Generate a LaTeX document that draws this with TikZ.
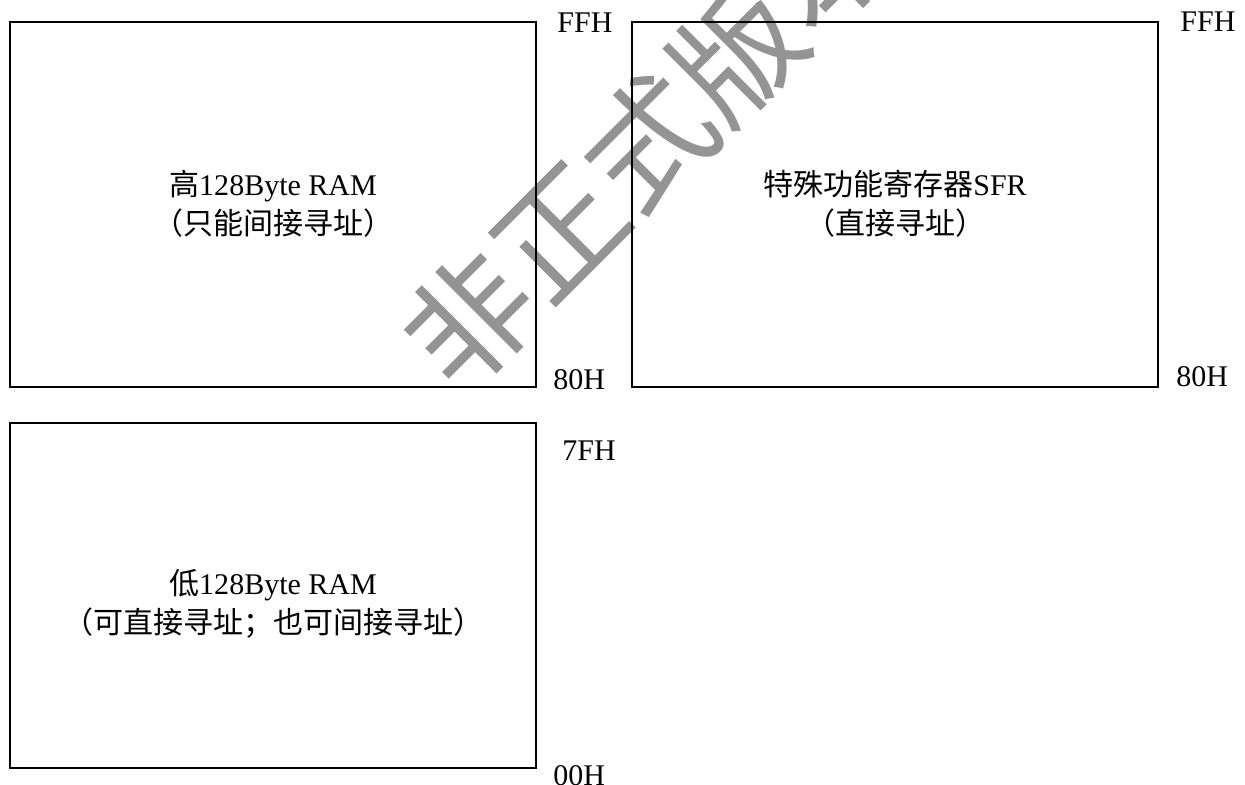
\documentclass[tikz,border=0pt]{standalone}
\usepackage{fontspec}
\setmainfont{Liberation Serif}
\newfontfamily\cjk{Noto Sans CJK SC}
\tikzset{
  membox/.style={draw=black, line width=1pt, minimum width=263pt, inner sep=0pt, outer sep=0pt},
  txt/.style={anchor=base, inner sep=0pt, font=\fontsize{15}{18}\selectfont},
  addr/.style={anchor=base west, inner sep=0pt, font=\fontsize{15}{18}\selectfont},
  wmark/.style={text=black!42, inner sep=0pt, rotate=45, font=\cjk\fontsize{63}{63}\selectfont}
}
\begin{document}
\begin{tikzpicture}[x=0.5pt, y=-0.5pt]
\useasboundingbox (0,0) rectangle (1245,784);
\fill[white] (0,0) rectangle (1245,784);
% watermark
\begin{scope}
\clip (0,0) rectangle (1245,784);
\node[wmark] (wm) at (648,142) {非正式版本};
\end{scope}
% boxes
\node[membox, minimum height=182.5pt] (hi) at (273,204.5) {};
\node[membox, minimum height=182.5pt] (sfr) at (895,204.5) {};
\node[membox, minimum height=172.5pt] (lo) at (273,595.5) {};
% texts
\node[txt] (hi1) at (273,195) {{\cjk 高}128Byte RAM};
\node[txt] (hi2) at (273,234) {\cjk （只能间接寻址）};
\node[txt] (sfr1) at (895,195) {{\cjk 特殊功能寄存器}SFR};
\node[txt] (sfr2) at (895,234) {\cjk （直接寻址）};
\node[txt] (lo1) at (273,594) {{\cjk 低}128Byte RAM};
\node[txt] (lo2) at (273,633) {\cjk （可直接寻址；也可间接寻址）};
% addresses
\node[addr] (a1) at (557,32) {FFH};
\node[addr] (a2) at (1180,31) {FFH};
\node[addr] (a3) at (553,389) {80H};
\node[addr] (a4) at (1176,386) {80H};
\node[addr] (a5) at (562,460) {7FH};
\node[addr] (a6) at (553,785) {00H};
\end{tikzpicture}
\end{document}
